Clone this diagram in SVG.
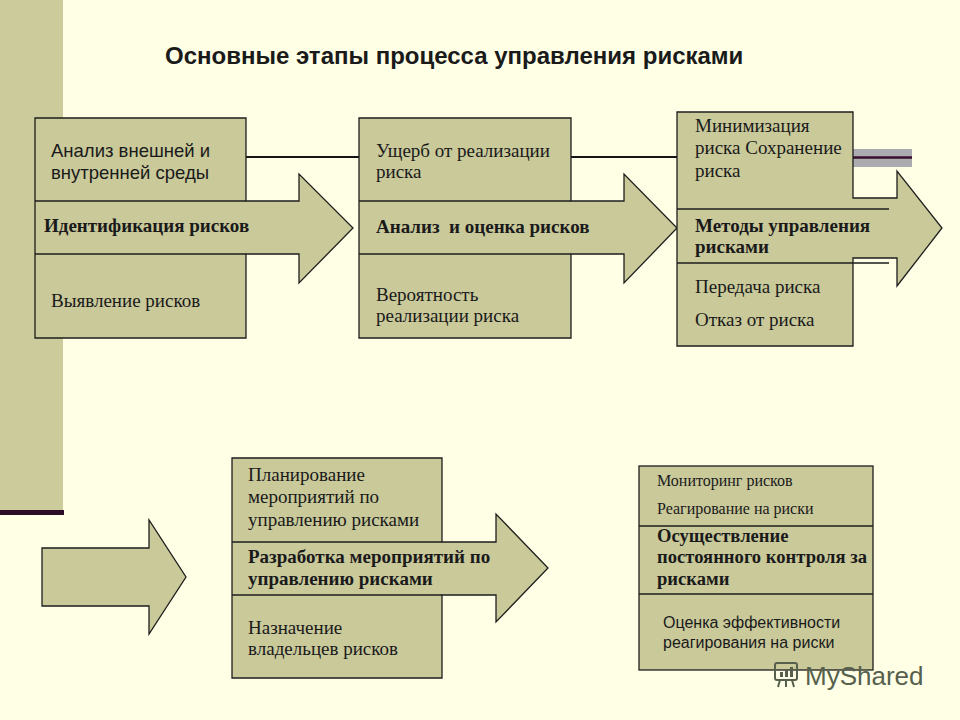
<svg xmlns="http://www.w3.org/2000/svg" width="960" height="720" viewBox="0 0 960 720">
<style>
.bg{fill:#FFFFE6}
.shape{fill:#C9C99A;stroke:#1E1E1E;stroke-width:1.3;stroke-linejoin:miter}
.band{fill:none;stroke:#1E1E1E;stroke-width:1.3}
.conn{fill:none;stroke:#141414;stroke-width:2.2}
.sans{font-family:"Liberation Sans",Arial,sans-serif;fill:#1A1A1A}
.serif{font-family:"Liberation Serif","Times New Roman",serif;fill:#1A1A1A}
.b{font-weight:bold}
.t19{font-size:19px}
.t185{font-size:18.5px}
.t16{font-size:16px}
.wm{font-family:"Liberation Sans",Arial,sans-serif;fill:#56604C;font-size:26px}
</style>
<rect class="bg" x="0" y="0" width="960" height="720"/>
<rect x="0" y="0" width="63" height="510" fill="#CBCB9B"/>
<rect x="0" y="510" width="64" height="5" fill="#2B0B28"/>
<rect x="853" y="149" width="59" height="18" fill="#ABABB0"/>
<line x1="853" y1="157.5" x2="912" y2="157.5" stroke="#3A1030" stroke-width="2.5"/>
<text class="sans b" x="165" y="64" font-size="24">Основные этапы процесса управления рисками</text>
<g id="connectors">
<line class="conn" x1="246" y1="157" x2="359" y2="157"/>
<line class="conn" x1="571" y1="157" x2="677" y2="157"/>
</g>
<g id="node1">
<path class="shape" d="M35,118 H246 V201 H299 V174 L353,228 L299,283 V254 H246 V338 H35 Z"/>
<path class="band" d="M35,201 H246 M35,254 H246"/>
<text class="sans t185" x="51" y="157">Анализ внешней и</text>
<text class="sans t185" x="51" y="179">внутренней среды</text>
<text class="serif b t19" x="44" y="232">Идентификация рисков</text>
<text class="serif t19" x="51" y="307">Выявление рисков</text>
</g>
<g id="node2">
<path class="shape" d="M359,118 H571 V201 H624 V174 L677,228 L624,283 V254 H571 V338 H359 Z"/>
<path class="band" d="M359,201 H571 M359,254 H571"/>
<text class="serif t19" x="376" y="157">Ущерб от реализации</text>
<text class="serif t19" x="376" y="178">риска</text>
<text class="serif b t19" x="376" y="233" xml:space="preserve">Анализ  и оценка рисков</text>
<text class="serif t19" x="376" y="301">Вероятность</text>
<text class="serif t19" x="376" y="322">реализации риска</text>
</g>
<g id="node3">
<path class="shape" d="M677,112 H853 V198 H897 V171 L942,228 L897,286 V258 H853 V346 H677 Z"/>
<path class="band" d="M677,209 H889 M677,263 H889"/>
<text class="serif t19" x="695" y="132">Минимизация</text>
<text class="serif t19" x="695" y="154">риска Сохранение</text>
<text class="serif t19" x="695" y="177">риска</text>
<text class="serif b t19" x="695" y="232">Методы управления</text>
<text class="serif b t19" x="695" y="253">рисками</text>
<text class="serif t19" x="695" y="293">Передача риска</text>
<text class="serif t19" x="695" y="326">Отказ от риска</text>
</g>
<g id="arrow-left">
<path class="shape" d="M42,548 H149 V520 L186,577 L149,634 V606 H42 Z"/>
</g>
<g id="node4">
<path class="shape" d="M232,458 H442 V542 H496 V514 L548,568 L496,622 V595 H442 V678 H232 Z"/>
<path class="band" d="M232,542 H442 M232,595 H442"/>
<text class="serif t19" x="248" y="481">Планирование</text>
<text class="serif t19" x="248" y="503">мероприятий по</text>
<text class="serif t19" x="248" y="526">управлению рисками</text>
<text class="serif b t19" x="248" y="563">Разработка мероприятий по</text>
<text class="serif b t19" x="248" y="585">управлению рисками</text>
<text class="serif t19" x="248" y="634">Назначение</text>
<text class="serif t19" x="248" y="655">владельцев рисков</text>
</g>
<g id="node5">
<rect class="shape" x="639" y="466" width="234" height="204"/>
<path class="band" d="M639,526 H873 M639,594 H873"/>
<text class="serif t16" x="657" y="486">Мониторинг рисков</text>
<text class="serif t16" x="657" y="514">Реагирование на риски</text>
<text class="serif b" font-size="18.6" x="657" y="542">Осуществление</text>
<text class="serif b" font-size="18.6" x="657" y="563">постоянного контроля за</text>
<text class="serif b" font-size="18.6" x="657" y="585">рисками</text>
<text class="sans t16" x="663" y="628">Оценка эффективности</text>
<text class="sans t16" x="663" y="648">реагирования на риски</text>
</g>
<g id="watermark">
<rect x="775" y="663" width="22" height="17" rx="2" fill="none" stroke="#56604C" stroke-width="2"/>
<rect x="780" y="672" width="3" height="5" fill="#56604C"/>
<rect x="785" y="669" width="3" height="8" fill="#56604C"/>
<rect x="790" y="667" width="3" height="10" fill="#56604C"/>
<path d="M780,680 L778,687 M786,680 V687 M792,680 L794,687" stroke="#56604C" stroke-width="2"/>
<text class="wm" x="805" y="685">MyShared</text>
</g>
</svg>
